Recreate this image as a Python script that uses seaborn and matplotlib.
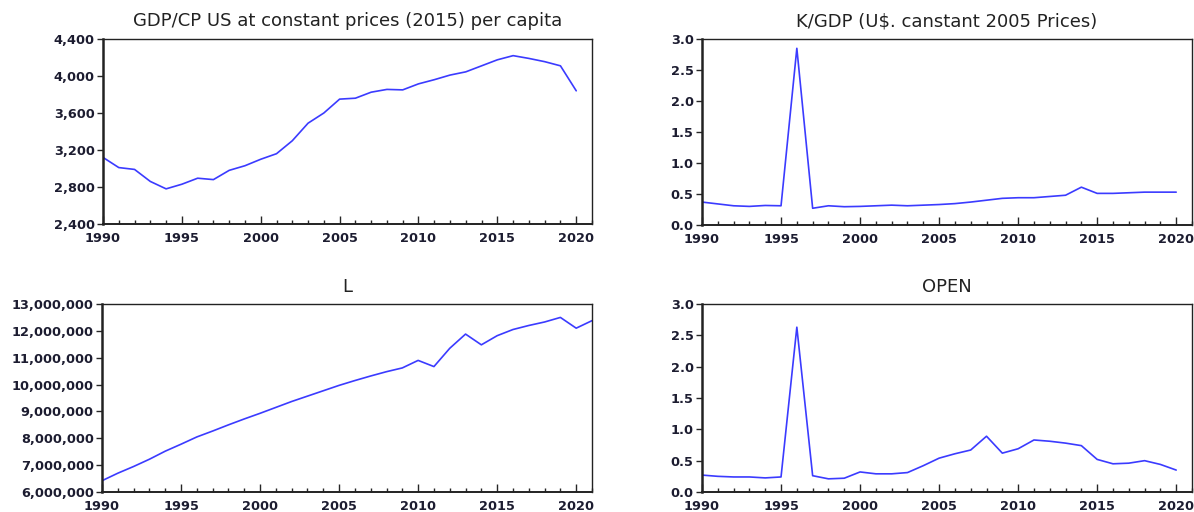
import numpy as np
import pandas as pd
import matplotlib
matplotlib.use('Agg')
import matplotlib.pyplot as plt
import seaborn as sns
from matplotlib.ticker import MultipleLocator, FuncFormatter

years = list(range(1990, 2021))
years_l = list(range(1990, 2022))

gdp_cp = [3120, 3010, 2990, 2860, 2780, 2830, 2895, 2880, 2980, 3030,
          3100, 3160, 3300, 3490, 3600, 3750, 3760, 3825, 3855, 3850,
          3915, 3960, 4010, 4045, 4110, 4175, 4220, 4190, 4155, 4110, 3840]

k_gdp = [0.37, 0.34, 0.31, 0.30, 0.315, 0.31, 2.85, 0.27, 0.31, 0.295,
         0.30, 0.31, 0.32, 0.31, 0.32, 0.33, 0.345, 0.37, 0.40, 0.43,
         0.44, 0.44, 0.46, 0.48, 0.61, 0.51, 0.51, 0.52, 0.53, 0.53, 0.53]

labour = [6.42, 6.70, 6.95, 7.22, 7.52, 7.78, 8.05, 8.27, 8.50, 8.72,
          8.93, 9.15, 9.37, 9.57, 9.77, 9.97, 10.15, 10.32, 10.48, 10.62,
          10.90, 10.67, 11.35, 11.88, 11.48, 11.82, 12.05, 12.20, 12.33, 12.50,
          12.10, 12.38]
labour = [v * 1e6 for v in labour]

openness = [0.27, 0.25, 0.24, 0.24, 0.225, 0.24, 2.63, 0.26, 0.21, 0.22,
            0.32, 0.29, 0.29, 0.31, 0.42, 0.54, 0.61, 0.67, 0.89, 0.62,
            0.69, 0.83, 0.81, 0.78, 0.74, 0.52, 0.45, 0.46, 0.50, 0.44, 0.35]

sns.set_style('white')
plt.rcParams['font.family'] = ['DejaVu Sans']

fig = plt.figure(figsize=(11.94, 5.12), dpi=100)

W, H = 1194, 512
def box(l, t, r, b):
    return [l / W, 1 - b / H, (r - l) / W, (b - t) / H]

panels = [
    (box(103, 39, 592, 224), years, gdp_cp, 'GDP/CP US at constant prices (2015) per capita',
     (2400, 4400), 400, lambda v, p: f'{v:,.0f}'),
    (box(702, 39, 1192, 225), years, k_gdp, 'K/GDP (U$. canstant 2005 Prices)',
     (0, 3.0), 0.5, lambda v, p: f'{v:.1f}'),
    (box(102, 304, 592, 492), years_l, labour, 'L',
     (6e6, 13e6), 1e6, lambda v, p: f'{v:,.0f}'),
    (box(702, 304, 1192, 492), years, openness, 'OPEN',
     (0, 3.0), 0.5, lambda v, p: f'{v:.1f}'),
]

text_col = '#1c1c30'
for rect, xs, ys, title, ylim, ystep, fmt in panels:
    ax = fig.add_axes(rect)
    df = pd.DataFrame({'year': xs, 'value': ys})
    sns.lineplot(data=df, x='year', y='value', ax=ax, color='#3b3bff', linewidth=1.2)
    ax.set_xlim(1990, 2021)
    ax.set_ylim(*ylim)
    ax.set_xlabel('')
    ax.set_ylabel('')
    ax.set_title(title, fontsize=13, color='#222222', pad=9)
    ax.xaxis.set_major_locator(MultipleLocator(5))
    ax.xaxis.set_minor_locator(MultipleLocator(1))
    ax.yaxis.set_major_locator(MultipleLocator(ystep))
    ax.yaxis.set_major_formatter(FuncFormatter(fmt))
    ax.tick_params(axis='x', which='major', direction='in', length=6, width=1,
                   labelsize=9.3, labelcolor=text_col, pad=6, bottom=True)
    ax.tick_params(axis='x', which='minor', direction='in', length=3, width=1, bottom=True)
    ax.tick_params(axis='y', which='major', direction='out', length=4, width=1,
                   labelsize=9.3, labelcolor=text_col, pad=2, left=True)
    for lab in ax.get_xticklabels() + ax.get_yticklabels():
        lab.set_fontweight('bold')
    for side, sp in ax.spines.items():
        sp.set_color('#222222')
        sp.set_linewidth(1.0)
    ax.spines['left'].set_linewidth(1.8)
    ax.spines['bottom'].set_linewidth(1.4)

fig.savefig('out.png', dpi=100)
